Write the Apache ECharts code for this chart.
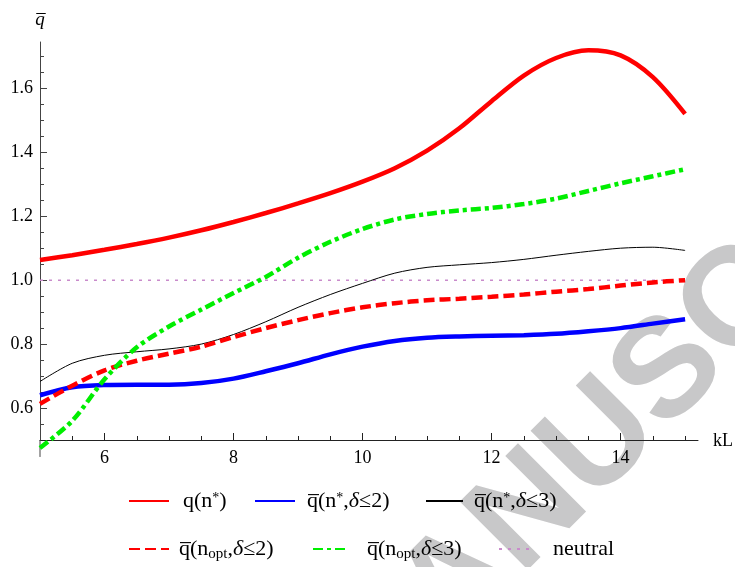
<!DOCTYPE html>
<html>
<head>
<meta charset="utf-8">
<title>q bar vs kL</title>
<script src="https://cdn.jsdelivr.net/npm/echarts@6/dist/echarts.min.js"></script>
<style>
  html, body { margin: 0; padding: 0; background: #fff; }
  #main { width: 735px; height: 567px; }
</style>
</head>
<body>
<div id="main"></div>
<script>
// kL sample points
var kL = [5, 5.5, 6, 6.5, 7, 7.5, 8, 8.5, 9, 9.5, 10, 10.5, 11, 11.5, 12, 12.5, 13, 13.5, 14, 14.5, 15];

// curves
var qStar      = [1.063, 1.078, 1.095, 1.113, 1.133, 1.156, 1.182, 1.21, 1.24, 1.272, 1.308, 1.35, 1.405, 1.475, 1.56, 1.64, 1.695, 1.719, 1.703, 1.635, 1.52];
var qStarD2    = [0.64, 0.665, 0.672, 0.673, 0.673, 0.678, 0.692, 0.715, 0.74, 0.768, 0.792, 0.81, 0.82, 0.824, 0.826, 0.828, 0.832, 0.84, 0.85, 0.864, 0.878];
var qStarD3    = [0.683, 0.74, 0.765, 0.776, 0.785, 0.8, 0.83, 0.87, 0.915, 0.955, 0.99, 1.022, 1.04, 1.048, 1.055, 1.065, 1.078, 1.09, 1.1, 1.103, 1.093];
var qOptD2     = [0.613, 0.67, 0.718, 0.748, 0.77, 0.792, 0.822, 0.85, 0.875, 0.897, 0.915, 0.928, 0.937, 0.942, 0.948, 0.955, 0.964, 0.972, 0.983, 0.993, 1.0];
var qOptD3     = [0.475, 0.56, 0.69, 0.79, 0.855, 0.908, 0.96, 1.01, 1.07, 1.12, 1.16, 1.19, 1.207, 1.218, 1.226, 1.238, 1.255, 1.279, 1.303, 1.325, 1.347];
var neutralX   = [5, 15];
var neutralY   = [1, 1];

// ticks
var xMajor = [6, 8, 10, 12, 14];
var xMinor = [5.5, 6.5, 7, 7.5, 8.5, 9, 9.5, 10.5, 11, 11.5, 12.5, 13, 13.5, 14.5, 15];
var yMajor = [0.6, 0.8, 1.0, 1.2, 1.4, 1.6];
var yMinor = [0.55, 0.65, 0.7, 0.75, 0.85, 0.9, 0.95, 1.05, 1.1, 1.15, 1.25, 1.3, 1.35, 1.45, 1.5, 1.55, 1.65, 1.7];

var names = ['q(n*)', 'qb(n*,d2)', 'qb(n*,d3)', 'qb(nopt,d2)', 'qb(nopt,d3)', 'neutral'];
var labelRich = {
  'q(n*)':       '{t|q(n}{sup|*}{t|)}',
  'qb(n*,d2)':   '{t|q\u0305(n}{sup|*}{t|,}{i|δ}{t|≤2)}',
  'qb(n*,d3)':   '{t|q\u0305(n}{sup|*}{t|,}{i|δ}{t|≤3)}',
  'qb(nopt,d2)': '{t|q\u0305(n}{sub|opt}{t|,}{i|δ}{t|≤2)}',
  'qb(nopt,d3)': '{t|q\u0305(n}{sub|opt}{t|,}{i|δ}{t|≤3)}',
  'neutral':     '{t|neutral}'
};

function pairs(xs, ys) {
  return xs.map(function (x, i) { return [x, ys[i]]; });
}

var serif = 'Liberation Serif';
var rich = {
  t:   { fontFamily: serif, fontSize: 22, color: '#000', lineHeight: 26, verticalAlign: 'middle' },
  i:   { fontFamily: serif, fontSize: 22, fontStyle: 'italic', color: '#000', lineHeight: 26, verticalAlign: 'middle' },
  sup: { fontFamily: serif, fontSize: 14, color: '#000', lineHeight: 26, verticalAlign: 'top', padding: [3, 0, 0, 0] },
  sub: { fontFamily: serif, fontSize: 15, color: '#000', lineHeight: 26, verticalAlign: 'bottom' }
};

// legend placement, one component per entry
var legLeft  = [128, 254, 425, 128, 312, 498];
var legTop   = [488, 488, 488, 538, 538, 538];
var legW     = [40, 40, 37, 40, 32, 34];
var legPad   = [9, 7, 6, 5, 17, 15];

var legends = names.map(function (n, i) {
  return {
    data: [n],
    left: legLeft[i],
    top: legTop[i],
    itemWidth: legW[i],
    itemHeight: 14,
    padding: 0,
    selectedMode: false,
    itemStyle: { opacity: 0 },
    formatter: function (name) { return labelRich[name]; },
    textStyle: { padding: [0, 0, 0, legPad[i]], rich: rich }
  };
});

var tickFont = { fontFamily: serif, fontSize: 18, color: '#000' };

var option = {
  animation: false,
  backgroundColor: '#fff',
  grid: { left: 40, right: 37, top: 42, bottom: 127, containLabel: false },
  legend: legends,
  xAxis: [{
    type: 'value', min: 5, max: 15.2,
    axisLine: { show: true, lineStyle: { color: '#222', width: 1 } },
    axisTick: { show: true, inside: true, length: 7, customValues: xMajor, lineStyle: { color: '#222' } },
    axisLabel: Object.assign({ customValues: xMajor, margin: 9 }, tickFont),
    splitLine: { show: false }
  }, {
    type: 'value', min: 5, max: 15.2, position: 'bottom',
    axisLine: { show: false },
    axisTick: { show: true, inside: true, length: 4, customValues: xMinor, lineStyle: { color: '#222' } },
    axisLabel: { show: false },
    splitLine: { show: false }
  }],
  yAxis: [{
    type: 'value', min: 0.5, max: 1.745,
    axisLine: { show: true, lineStyle: { color: '#444', width: 1 } },
    axisTick: { show: true, inside: true, length: 7, customValues: yMajor, lineStyle: { color: '#444' } },
    axisLabel: Object.assign({ customValues: yMajor, margin: 7, formatter: function (v) { return v.toFixed(1); } }, tickFont),
    splitLine: { show: false }
  }, {
    type: 'value', min: 0.5, max: 1.745, position: 'left',
    axisLine: { show: false },
    axisTick: { show: true, inside: true, length: 4, customValues: yMinor, lineStyle: { color: '#444' } },
    axisLabel: { show: false },
    splitLine: { show: false }
  }],
  series: [{
    name: 'q(n*)', type: 'line', smooth: 0.3, symbol: 'none', clip: false, z: 5,
    data: pairs(kL, qStar),
    lineStyle: { color: '#ff0000', width: 4.5 }, itemStyle: { color: '#ff0000' }
  }, {
    name: 'qb(n*,d2)', type: 'line', smooth: 0.3, symbol: 'none', clip: false, z: 5,
    data: pairs(kL, qStarD2),
    lineStyle: { color: '#0000ff', width: 4.5 }, itemStyle: { color: '#0000ff' }
  }, {
    name: 'qb(n*,d3)', type: 'line', smooth: 0.3, symbol: 'none', clip: false, z: 5,
    data: pairs(kL, qStarD3),
    lineStyle: { color: '#000', width: 1 }, itemStyle: { color: '#000' }
  }, {
    name: 'qb(nopt,d2)', type: 'line', smooth: 0.3, symbol: 'none', clip: false, z: 5,
    data: pairs(kL, qOptD2),
    lineStyle: { color: '#ff0000', width: 4.5, type: [11, 5] }, itemStyle: { color: '#ff0000' }
  }, {
    name: 'qb(nopt,d3)', type: 'line', smooth: 0.3, symbol: 'none', clip: false, z: 5,
    data: pairs(kL, qOptD3),
    lineStyle: { color: '#00ee00', width: 4.5, type: [10, 4, 4, 4] }, itemStyle: { color: '#00ee00' }
  }, {
    name: 'neutral', type: 'line', symbol: 'none', clip: false, z: 4,
    data: pairs(neutralX, neutralY),
    lineStyle: { color: '#c98bcb', width: 1.5, type: [3, 6] }, itemStyle: { color: '#c98bcb' }
  }],
  graphic: [{
    id: 'watermark', type: 'text', x: 340, y: 703, rotation: Math.PI / 4, z: -10, silent: true,
    style: { text: 'MANUSCRIPT', fill: '#c8c8c9', stroke: null, lineWidth: 0, font: 'bold 140px "Liberation Sans"', textAlign: 'left', textVerticalAlign: 'middle' }
  }, {
    id: 'yname', type: 'text', x: 40, y: 20,
    style: { text: 'q\u0305', fill: '#000', font: 'italic 19px "Liberation Serif"', textAlign: 'center', textVerticalAlign: 'middle' }
  }, {
    id: 'xname', type: 'text', x: 713, y: 441,
    style: { text: 'kL', fill: '#000', font: '18px "Liberation Serif"', textAlign: 'left', textVerticalAlign: 'middle' }
  }]
};

var chart = echarts.init(document.getElementById('main'), null, { renderer: 'canvas' });
chart.setOption(option);

// y axis runs a little below the x axis crossing
var pTop = chart.convertToPixel({ gridIndex: 0 }, [5, 0.5]);
var pBot = chart.convertToPixel({ gridIndex: 0 }, [5, 0.447]);
chart.setOption({
  graphic: [{
    id: 'ystub', type: 'line', z: 3, silent: true,
    shape: { x1: pTop[0], y1: pTop[1], x2: pBot[0], y2: pBot[1] },
    style: { stroke: '#444', lineWidth: 1 }
  }]
});
</script>
</body>
</html>
